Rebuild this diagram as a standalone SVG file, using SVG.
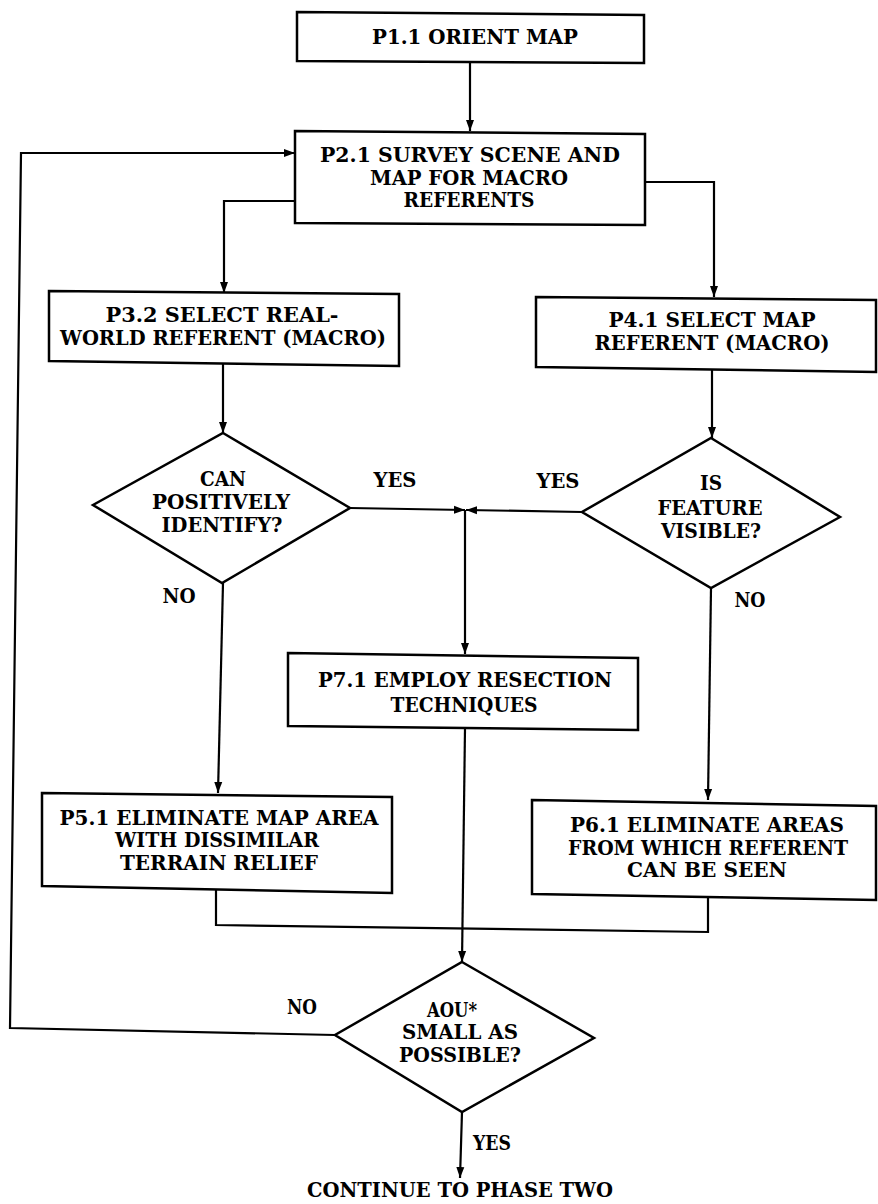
<svg xmlns="http://www.w3.org/2000/svg" width="878" height="1204" viewBox="0 0 878 1204">
  <style>
    .box { fill: #fff; stroke: #000; stroke-width: 2.5; }
    .wire { fill: none; stroke: #000; stroke-width: 2.2; }
    text { font-family: "DejaVu Serif", "Liberation Serif", serif; font-weight: bold; font-size: 20.5px; fill: #000; text-anchor: middle; }
  </style>
  <defs>
    <marker id="arrow" markerWidth="12" markerHeight="10" refX="11" refY="5" orient="auto" markerUnits="userSpaceOnUse">
      <path d="M0,1 L11,5 L0,9 Z" fill="#000"/>
    </marker>
  </defs>
  <rect width="878" height="1204" fill="#fff"/>

  <g id="connectors">
    <path class="wire" d="M470,63 V131" marker-end="url(#arrow)"/>
    <path class="wire" d="M335,1035 L10,1028 L21,153 H295" marker-end="url(#arrow)"/>
    <path class="wire" d="M295,201 H224 V293" marker-end="url(#arrow)"/>
    <path class="wire" d="M645,182 H714 V297" marker-end="url(#arrow)"/>
    <path class="wire" d="M223,363 V433" marker-end="url(#arrow)"/>
    <path class="wire" d="M712,370 V438" marker-end="url(#arrow)"/>
    <path class="wire" d="M350,508 L465,510" marker-end="url(#arrow)"/>
    <path class="wire" d="M582,512 L466,510" marker-end="url(#arrow)"/>
    <path class="wire" d="M465,510 V654" marker-end="url(#arrow)"/>
    <path class="wire" d="M223,583 L218,793" marker-end="url(#arrow)"/>
    <path class="wire" d="M711,588 L708,800" marker-end="url(#arrow)"/>
    <path class="wire" d="M465,728 L462,962" marker-end="url(#arrow)"/>
    <path class="wire" d="M216,888 V925 L708,932 V895"/>
    <path class="wire" d="M462,1112 L460,1178" marker-end="url(#arrow)"/>
  </g>

  <g id="p1-1">
    <polygon class="box" points="297,12 644,15 644,63 297,61"/>
    <text x="475" y="44" textLength="206" lengthAdjust="spacingAndGlyphs">P1.1 ORIENT MAP</text>
  </g>

  <g id="p2-1">
    <polygon class="box" points="295,131 645,134 645,225 295,223"/>
    <text x="470" y="162" textLength="300" lengthAdjust="spacingAndGlyphs">P2.1 SURVEY SCENE AND</text>
    <text x="469" y="185" textLength="198" lengthAdjust="spacingAndGlyphs">MAP FOR MACRO</text>
    <text x="469" y="207" textLength="131" lengthAdjust="spacingAndGlyphs">REFERENTS</text>
  </g>

  <g id="p3-2">
    <polygon class="box" points="49,291 399,294 399,366 49,361"/>
    <text x="222" y="322" textLength="233" lengthAdjust="spacingAndGlyphs">P3.2 SELECT REAL-</text>
    <text x="223" y="345" textLength="326" lengthAdjust="spacingAndGlyphs">WORLD REFERENT (MACRO)</text>
  </g>

  <g id="p4-1">
    <polygon class="box" points="536,297 876,300 876,372 536,367"/>
    <text x="712" y="327" textLength="207" lengthAdjust="spacingAndGlyphs">P4.1 SELECT MAP</text>
    <text x="712" y="350" textLength="235" lengthAdjust="spacingAndGlyphs">REFERENT (MACRO)</text>
  </g>

  <g id="d-identify">
    <polygon class="box" points="223,433 350,508 222,583 93,505"/>
    <text x="223" y="486" textLength="46" lengthAdjust="spacingAndGlyphs">CAN</text>
    <text x="221" y="509" textLength="138" lengthAdjust="spacingAndGlyphs">POSITIVELY</text>
    <text x="222" y="532" textLength="121" lengthAdjust="spacingAndGlyphs">IDENTIFY?</text>
  </g>

  <g id="d-visible">
    <polygon class="box" points="711,438 840,517 711,588 582,512"/>
    <text x="711" y="490" textLength="22" lengthAdjust="spacingAndGlyphs">IS</text>
    <text x="710" y="515" textLength="105" lengthAdjust="spacingAndGlyphs">FEATURE</text>
    <text x="711" y="538" textLength="100" lengthAdjust="spacingAndGlyphs">VISIBLE?</text>
  </g>

  <g id="labels">
    <text x="395" y="487" textLength="43" lengthAdjust="spacingAndGlyphs">YES</text>
    <text x="558" y="488" textLength="43" lengthAdjust="spacingAndGlyphs">YES</text>
    <text x="179" y="603" textLength="33" lengthAdjust="spacingAndGlyphs">NO</text>
    <text x="750" y="607" textLength="31" lengthAdjust="spacingAndGlyphs">NO</text>
    <text x="302" y="1014" textLength="30" lengthAdjust="spacingAndGlyphs">NO</text>
    <text x="492" y="1150" textLength="38" lengthAdjust="spacingAndGlyphs">YES</text>
    <text x="460" y="1197" textLength="306" lengthAdjust="spacingAndGlyphs">CONTINUE TO PHASE TWO</text>
  </g>

  <g id="p7-1">
    <polygon class="box" points="288,653 638,658 638,730 288,726"/>
    <text x="465" y="687" textLength="294" lengthAdjust="spacingAndGlyphs">P7.1 EMPLOY RESECTION</text>
    <text x="464" y="712" textLength="147" lengthAdjust="spacingAndGlyphs">TECHNIQUES</text>
  </g>

  <g id="p5-1">
    <polygon class="box" points="42,793 392,797 392,893 42,886"/>
    <text x="219" y="825" textLength="319" lengthAdjust="spacingAndGlyphs">P5.1 ELIMINATE MAP AREA</text>
    <text x="217" y="847" textLength="204" lengthAdjust="spacingAndGlyphs">WITH DISSIMILAR</text>
    <text x="219" y="870" textLength="198" lengthAdjust="spacingAndGlyphs">TERRAIN RELIEF</text>
  </g>

  <g id="p6-1">
    <polygon class="box" points="532,800 876,806 876,900 532,894"/>
    <text x="707" y="832" textLength="274" lengthAdjust="spacingAndGlyphs">P6.1 ELIMINATE AREAS</text>
    <text x="708" y="855" textLength="280" lengthAdjust="spacingAndGlyphs">FROM WHICH REFERENT</text>
    <text x="707" y="877" textLength="160" lengthAdjust="spacingAndGlyphs">CAN BE SEEN</text>
  </g>

  <g id="d-aou">
    <polygon class="box" points="462,962 594,1038 462,1112 335,1035"/>
    <text x="452" y="1017" textLength="50" lengthAdjust="spacingAndGlyphs">AOU*</text>
    <text x="460" y="1039" textLength="116" lengthAdjust="spacingAndGlyphs">SMALL AS</text>
    <text x="460" y="1062" textLength="122" lengthAdjust="spacingAndGlyphs">POSSIBLE?</text>
  </g>
</svg>
